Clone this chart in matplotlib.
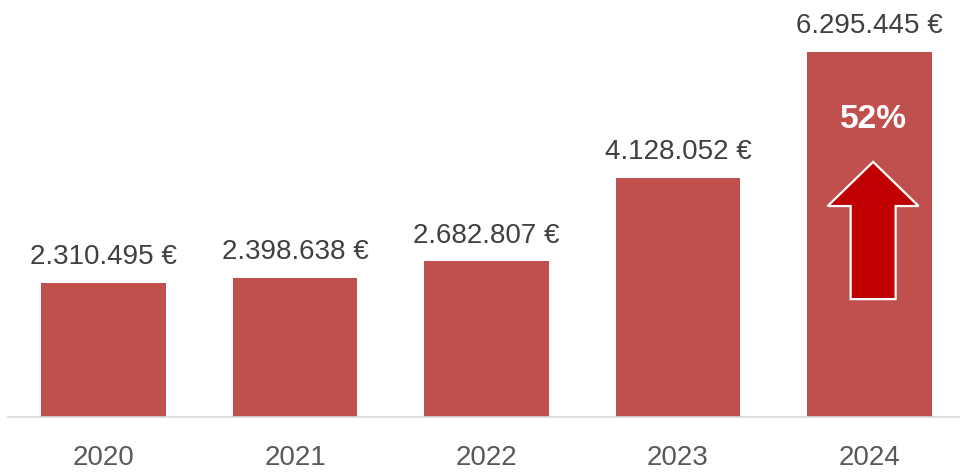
"bar chart of yearly revenue with growth arrow"

import matplotlib
matplotlib.use("Agg")
import matplotlib.pyplot as plt
from matplotlib.patches import Polygon

plt.rcParams['font.family'] = ['Liberation Sans Narrow', 'Liberation Sans', 'DejaVu Sans']

years = ['2020', '2021', '2022', '2023', '2024']
values = [2310495, 2398638, 2682807, 4128052, 6295445]
growth_label = '52%'

bar_color = '#C0504D'
arrow_color = '#C00000'


def fmt_eur(v):
    return '{:,}'.format(v).replace(',', '.') + ' \u20ac'


fig = plt.figure(figsize=(9.6, 4.76), dpi=100)
# axes in pixel terms: left 8, bottom 59, full width/height above
ax = fig.add_axes([8 / 960, 59 / 476, 952 / 960, 417 / 476])

x = list(range(len(years)))
ax.bar(x, values, width=0.65, color=bar_color, zorder=2)

step = 191.4  # px per category
ax.set_xlim(-0.5, 952 / step - 0.5)
ax.set_ylim(0, values[-1] * 417 / 365)

for xi, v in zip(x, values):
    ax.annotate(fmt_eur(v), (xi, v), xytext=(0, 13.5), textcoords='offset points',
                ha='center', va='baseline', fontsize=20, color='#404040')

# growth arrow inside the last bar
last = values[-1]
cx = x[-1] + 0.02
head_w = 0.475
shaft_w = 0.235
tip = last * 0.699
head_base = last * 0.578
bottom = last * 0.323
pts = [
    (cx, tip),
    (cx + head_w / 2, head_base),
    (cx + shaft_w / 2, head_base),
    (cx + shaft_w / 2, bottom),
    (cx - shaft_w / 2, bottom),
    (cx - shaft_w / 2, head_base),
    (cx - head_w / 2, head_base),
]
ax.add_patch(Polygon(pts, closed=True, facecolor=arrow_color, edgecolor='white',
                     linewidth=1.6, zorder=3))
ax.text(cx, last * 0.815, growth_label, ha='center', va='center', fontsize=24,
        fontweight='bold', color='white', zorder=4)

ax.set_xticks(x)
ax.set_xticklabels(years, fontsize=20, color='#595959')
ax.tick_params(axis='x', length=0, pad=20)
ax.set_yticks([])
for s in ['top', 'right', 'left']:
    ax.spines[s].set_visible(False)
ax.spines['bottom'].set_color('#D9D9D9')
ax.spines['bottom'].set_linewidth(1.2)

fig.savefig('out.png', dpi=100)
